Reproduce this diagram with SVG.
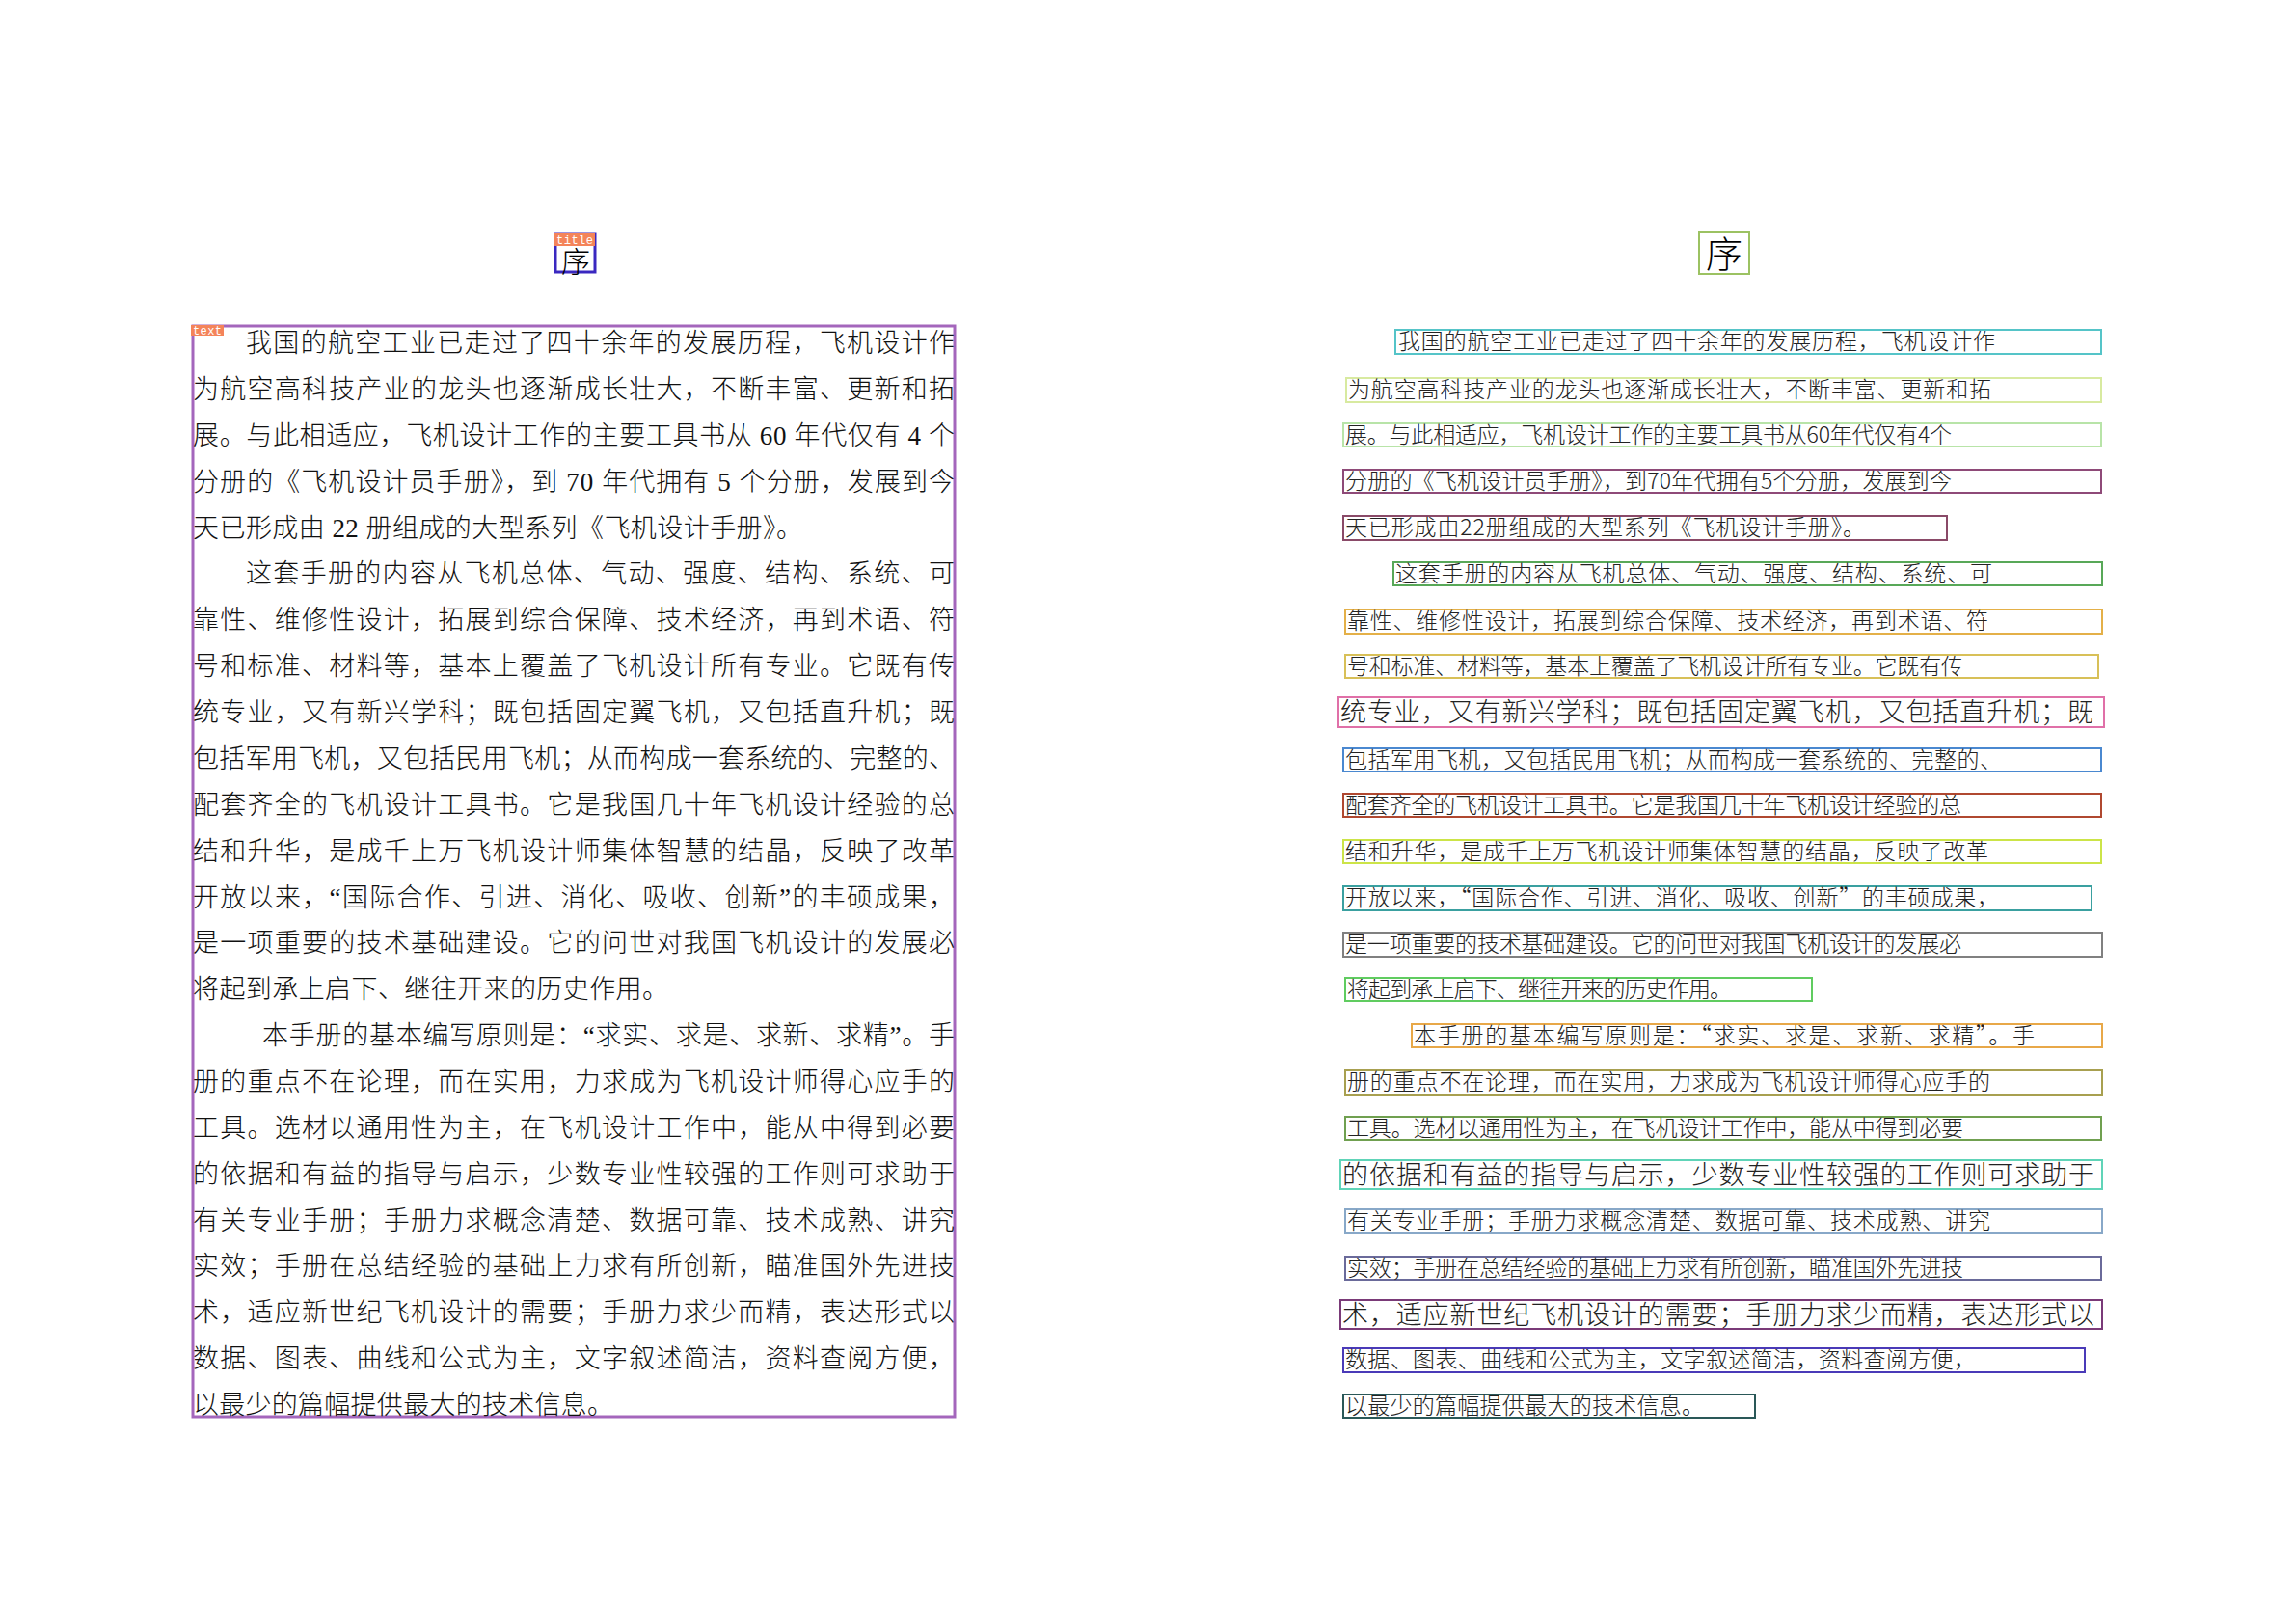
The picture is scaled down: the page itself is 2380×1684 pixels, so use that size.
<svg xmlns="http://www.w3.org/2000/svg" width="2380" height="1684" viewBox="0 0 2380 1684">
<style>
.lt{font-family:"Liberation Serif","Noto Sans CJK SC",serif;font-size:27px;font-weight:300;fill:#111}
.rt{font-family:"Noto Sans CJK SC",sans-serif;font-size:23px;font-weight:300;fill:#222}
.rb{font-family:"Noto Sans CJK SC",sans-serif;font-size:27px;font-weight:300;fill:#222}
.bx{fill:none;stroke-width:2}
.tag{fill:#f4845a}
.tagt{font-family:"Liberation Mono",monospace;font-size:12px;fill:#fff}
</style>
<rect width="2380" height="1684" fill="#fff"/>
<g id="left-title">
<rect x="576" y="243" width="41" height="39" fill="none" stroke="#3a28c0" stroke-width="3"/>
<text x="597" y="282" text-anchor="middle" style="font-family:'Noto Sans CJK SC',sans-serif;font-size:30px;font-weight:300;fill:#000">序</text>
<rect class="tag" x="575" y="242" width="42" height="13"/>
<text class="tagt" x="577" y="253" textLength="38">title</text>
</g>
<g id="left-text">
<rect x="200" y="338" width="790" height="1131" fill="none" stroke="#a466bc" stroke-width="3"/>
<rect class="tag" x="198" y="337" width="34" height="11"/>
<text class="tagt" x="200" y="347" textLength="30">text</text>
<text class="lt" x="255" y="365" textLength="735" lengthAdjust="spacing">我国的航空工业已走过了四十余年的发展历程，飞机设计作</text>
<text class="lt" x="200" y="413" textLength="790" lengthAdjust="spacing">为航空高科技产业的龙头也逐渐成长壮大，不断丰富、更新和拓</text>
<text class="lt" x="200" y="461" textLength="790" lengthAdjust="spacing">展。与此相适应，飞机设计工作的主要工具书从 60 年代仅有 4 个</text>
<text class="lt" x="200" y="509" textLength="790" lengthAdjust="spacing">分册的《飞机设计员手册》，到 70 年代拥有 5 个分册，发展到今</text>
<text class="lt" x="200" y="557" textLength="632" lengthAdjust="spacing">天已形成由 22 册组成的大型系列《飞机设计手册》。</text>
<text class="lt" x="255" y="604" textLength="735" lengthAdjust="spacing">这套手册的内容从飞机总体、气动、强度、结构、系统、可</text>
<text class="lt" x="200" y="652" textLength="790" lengthAdjust="spacing">靠性、维修性设计，拓展到综合保障、技术经济，再到术语、符</text>
<text class="lt" x="200" y="700" textLength="790" lengthAdjust="spacing">号和标准、材料等，基本上覆盖了飞机设计所有专业。它既有传</text>
<text class="lt" x="200" y="748" textLength="790" lengthAdjust="spacing">统专业，又有新兴学科；既包括固定翼飞机，又包括直升机；既</text>
<text class="lt" x="200" y="796" textLength="790" lengthAdjust="spacing">包括军用飞机，又包括民用飞机；从而构成一套系统的、完整的、</text>
<text class="lt" x="200" y="844" textLength="790" lengthAdjust="spacing">配套齐全的飞机设计工具书。它是我国几十年飞机设计经验的总</text>
<text class="lt" x="200" y="892" textLength="790" lengthAdjust="spacing">结和升华，是成千上万飞机设计师集体智慧的结晶，反映了改革</text>
<text class="lt" x="200" y="940" textLength="790" lengthAdjust="spacing">开放以来，“国际合作、引进、消化、吸收、创新”的丰硕成果，</text>
<text class="lt" x="200" y="987" textLength="790" lengthAdjust="spacing">是一项重要的技术基础建设。它的问世对我国飞机设计的发展必</text>
<text class="lt" x="200" y="1035" textLength="493" lengthAdjust="spacing">将起到承上启下、继往开来的历史作用。</text>
<text class="lt" x="272" y="1083" textLength="718" lengthAdjust="spacing">本手册的基本编写原则是：“求实、求是、求新、求精”。手</text>
<text class="lt" x="200" y="1131" textLength="790" lengthAdjust="spacing">册的重点不在论理，而在实用，力求成为飞机设计师得心应手的</text>
<text class="lt" x="200" y="1179" textLength="790" lengthAdjust="spacing">工具。选材以通用性为主，在飞机设计工作中，能从中得到必要</text>
<text class="lt" x="200" y="1227" textLength="790" lengthAdjust="spacing">的依据和有益的指导与启示，少数专业性较强的工作则可求助于</text>
<text class="lt" x="200" y="1275" textLength="790" lengthAdjust="spacing">有关专业手册；手册力求概念清楚、数据可靠、技术成熟、讲究</text>
<text class="lt" x="200" y="1322" textLength="790" lengthAdjust="spacing">实效；手册在总结经验的基础上力求有所创新，瞄准国外先进技</text>
<text class="lt" x="200" y="1370" textLength="790" lengthAdjust="spacing">术，适应新世纪飞机设计的需要；手册力求少而精，表达形式以</text>
<text class="lt" x="200" y="1418" textLength="790" lengthAdjust="spacing">数据、图表、曲线和公式为主，文字叙述简洁，资料查阅方便，</text>
<text class="lt" x="200" y="1466" textLength="436" lengthAdjust="spacing">以最少的篇幅提供最大的技术信息。</text>
</g>
<g id="right-title">
<rect class="bx" x="1762" y="241" width="52" height="43" stroke="#9cc262"/>
<text x="1788" y="277" text-anchor="middle" style="font-family:'Noto Sans CJK SC',sans-serif;font-size:38px;font-weight:300;fill:#000">序</text>
</g>
<g id="r01"><rect class="bx" x="1447" y="342" width="732" height="25" stroke="#55c4c8"/><text class="rt" x="1450" y="362" textLength="619" lengthAdjust="spacing">我国的航空工业已走过了四十余年的发展历程，飞机设计作</text></g>
<g id="r02"><rect class="bx" x="1396" y="392" width="783" height="25" stroke="#d8eaa0"/><text class="rt" x="1398" y="412" textLength="667" lengthAdjust="spacing">为航空高科技产业的龙头也逐渐成长壮大，不断丰富、更新和拓</text></g>
<g id="r03"><rect class="bx" x="1393" y="439" width="786" height="24" stroke="#b8e4a8"/><text class="rt" x="1395" y="459" textLength="629" lengthAdjust="spacing">展。与此相适应，飞机设计工作的主要工具书从60年代仅有4个</text></g>
<g id="r04"><rect class="bx" x="1393" y="487" width="786" height="24" stroke="#8e4a78"/><text class="rt" x="1395" y="507" textLength="629" lengthAdjust="spacing">分册的《飞机设计员手册》，到70年代拥有5个分册，发展到今</text></g>
<g id="r05"><rect class="bx" x="1393" y="535" width="626" height="25" stroke="#8a4a68"/><text class="rt" x="1395" y="555" textLength="539" lengthAdjust="spacing">天已形成由22册组成的大型系列《飞机设计手册》。</text></g>
<g id="r06"><rect class="bx" x="1445" y="583" width="735" height="24" stroke="#58a858"/><text class="rt" x="1447" y="603" textLength="619" lengthAdjust="spacing">这套手册的内容从飞机总体、气动、强度、结构、系统、可</text></g>
<g id="r07"><rect class="bx" x="1395" y="632" width="785" height="25" stroke="#e4b048"/><text class="rt" x="1397" y="652" textLength="665" lengthAdjust="spacing">靠性、维修性设计，拓展到综合保障、技术经济，再到术语、符</text></g>
<g id="r08"><rect class="bx" x="1395" y="679" width="781" height="24" stroke="#d8c058"/><text class="rt" x="1397" y="699" textLength="639" lengthAdjust="spacing">号和标准、材料等，基本上覆盖了飞机设计所有专业。它既有传</text></g>
<g id="r09"><rect class="bx" x="1388" y="723" width="794" height="31" stroke="#e070a8"/><text class="rb" x="1390" y="748" textLength="781" lengthAdjust="spacing">统专业，又有新兴学科；既包括固定翼飞机，又包括直升机；既</text></g>
<g id="r10"><rect class="bx" x="1393" y="776" width="786" height="24" stroke="#4a88d0"/><text class="rt" x="1395" y="796" textLength="681" lengthAdjust="spacing">包括军用飞机，又包括民用飞机；从而构成一套系统的、完整的、</text></g>
<g id="r11"><rect class="bx" x="1393" y="823" width="786" height="24" stroke="#b04830"/><text class="rt" x="1395" y="843" textLength="639" lengthAdjust="spacing">配套齐全的飞机设计工具书。它是我国几十年飞机设计经验的总</text></g>
<g id="r12"><rect class="bx" x="1393" y="871" width="786" height="24" stroke="#cce448"/><text class="rt" x="1395" y="891" textLength="667" lengthAdjust="spacing">结和升华，是成千上万飞机设计师集体智慧的结晶，反映了改革</text></g>
<g id="r13"><rect class="bx" x="1393" y="919" width="776" height="25" stroke="#3aa0a0"/><text class="rt" x="1395" y="939" textLength="678" lengthAdjust="spacing">开放以来，“国际合作、引进、消化、吸收、创新”的丰硕成果，</text></g>
<g id="r14"><rect class="bx" x="1393" y="967" width="787" height="25" stroke="#808080"/><text class="rt" x="1395" y="987" textLength="639" lengthAdjust="spacing">是一项重要的技术基础建设。它的问世对我国飞机设计的发展必</text></g>
<g id="r15"><rect class="bx" x="1395" y="1014" width="484" height="24" stroke="#60cc60"/><text class="rt" x="1397" y="1034" textLength="399" lengthAdjust="spacing">将起到承上启下、继往开来的历史作用。</text></g>
<g id="r16"><rect class="bx" x="1464" y="1062" width="716" height="24" stroke="#e8a848"/><text class="rt" x="1466" y="1082" textLength="644" lengthAdjust="spacing">本手册的基本编写原则是：“求实、求是、求新、求精”。手</text></g>
<g id="r17"><rect class="bx" x="1395" y="1110" width="785" height="25" stroke="#a8a050"/><text class="rt" x="1397" y="1130" textLength="667" lengthAdjust="spacing">册的重点不在论理，而在实用，力求成为飞机设计师得心应手的</text></g>
<g id="r18"><rect class="bx" x="1395" y="1158" width="784" height="24" stroke="#70a050"/><text class="rt" x="1397" y="1178" textLength="639" lengthAdjust="spacing">工具。选材以通用性为主，在飞机设计工作中，能从中得到必要</text></g>
<g id="r19"><rect class="bx" x="1390" y="1203" width="790" height="30" stroke="#60d4b8"/><text class="rb" x="1392" y="1228" textLength="780" lengthAdjust="spacing">的依据和有益的指导与启示，少数专业性较强的工作则可求助于</text></g>
<g id="r20"><rect class="bx" x="1395" y="1254" width="785" height="25" stroke="#88a8c8"/><text class="rt" x="1397" y="1274" textLength="667" lengthAdjust="spacing">有关专业手册；手册力求概念清楚、数据可靠、技术成熟、讲究</text></g>
<g id="r21"><rect class="bx" x="1395" y="1303" width="784" height="24" stroke="#6a6a9a"/><text class="rt" x="1397" y="1323" textLength="639" lengthAdjust="spacing">实效；手册在总结经验的基础上力求有所创新，瞄准国外先进技</text></g>
<g id="r22"><rect class="bx" x="1390" y="1348" width="790" height="30" stroke="#7a3a78"/><text class="rb" x="1392" y="1373" textLength="780" lengthAdjust="spacing">术，适应新世纪飞机设计的需要；手册力求少而精，表达形式以</text></g>
<g id="r23"><rect class="bx" x="1393" y="1398" width="769" height="25" stroke="#4a3ab8"/><text class="rt" x="1395" y="1418" textLength="654" lengthAdjust="spacing">数据、图表、曲线和公式为主，文字叙述简洁，资料查阅方便，</text></g>
<g id="r24"><rect class="bx" x="1393" y="1446" width="427" height="24" stroke="#2a5858"/><text class="rt" x="1395" y="1466" textLength="372" lengthAdjust="spacing">以最少的篇幅提供最大的技术信息。</text></g>
<g id="connectors"/>
</svg>
